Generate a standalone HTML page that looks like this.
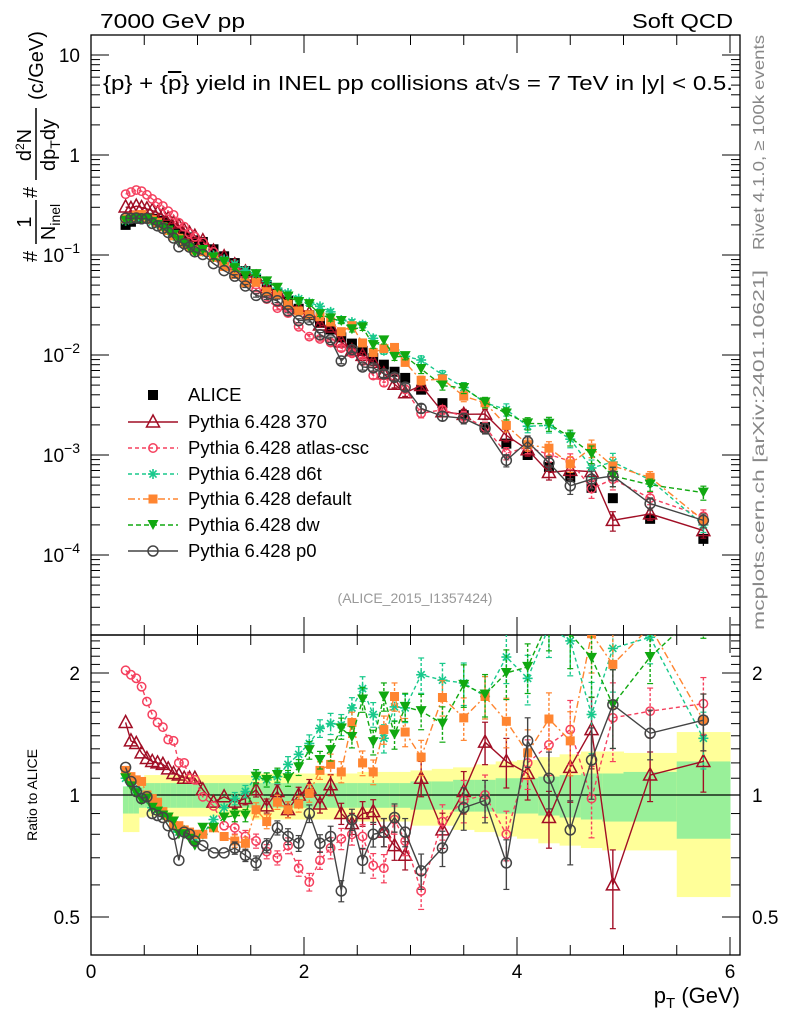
<!DOCTYPE html>
<html><head><meta charset="utf-8"><style>
html,body{margin:0;padding:0;background:#fff;}
svg{display:block;font-family:"Liberation Sans",sans-serif;}
</style></head><body>
<svg id="chart" width="786" height="1024" viewBox="0 0 786 1024" xmlns="http://www.w3.org/2000/svg">
<defs>
<clipPath id="clipTop"><rect x="91" y="35" width="649" height="600"/></clipPath>
<clipPath id="clipRat"><rect x="91" y="635" width="649" height="320"/></clipPath>
</defs>
<g id="bands" clip-path="url(#clipRat)"></g>
<g id="grid"></g>
<g id="marksTop" clip-path="url(#clipTop)"></g>
<g id="marksRat" clip-path="url(#clipRat)"></g>
<g id="legend"></g>
<text x="100" y="28" font-size="20" textLength="145" lengthAdjust="spacingAndGlyphs">7000 GeV pp</text>
<text x="632" y="28" font-size="20" textLength="101" lengthAdjust="spacingAndGlyphs">Soft QCD</text>
<text x="103" y="90" font-size="20" textLength="630" lengthAdjust="spacingAndGlyphs">{p} + {<tspan text-decoration="overline">p</tspan>} yield in INEL pp collisions at√s =  7 TeV in |y| &lt; 0.5.</text>
<text x="415" y="603" font-size="14" fill="#999" text-anchor="middle">(ALICE_2015_I1357424)</text>
<text transform="translate(764,250) rotate(-90)" font-size="16" fill="#888" textLength="215" lengthAdjust="spacingAndGlyphs">Rivet 4.1.0, ≥ 100k events</text>
<text transform="translate(764,630) rotate(-90)" font-size="16" fill="#888" textLength="360" lengthAdjust="spacingAndGlyphs">mcplots.cern.ch [arXiv:2401.10621]</text>
<text transform="translate(37,795) rotate(-90)" font-size="14" text-anchor="middle">Ratio to ALICE</text>
<text x="740" y="1003" font-size="22" text-anchor="end">p<tspan font-size="15" dy="5">T</tspan><tspan dy="-5"> (GeV)</tspan></text>
<g>
<text transform="translate(37,262) rotate(-90)" font-size="20">#</text>
<text transform="translate(31,222) rotate(-90)" font-size="20" text-anchor="middle">1</text>
<line x1="36" y1="200" x2="36" y2="244" stroke="#000" stroke-width="1.5"/>
<text transform="translate(55,222) rotate(-90)" font-size="20" text-anchor="middle">N<tspan font-size="14" dy="5">inel</tspan></text>
<text transform="translate(37,198) rotate(-90)" font-size="20">#</text>
<text transform="translate(31,145) rotate(-90)" font-size="20" text-anchor="middle">d<tspan font-size="12" dy="-7">2</tspan><tspan dy="7">N</tspan></text>
<line x1="36" y1="108" x2="36" y2="180" stroke="#000" stroke-width="1.5"/>
<text transform="translate(55,145) rotate(-90)" font-size="20" text-anchor="middle">dp<tspan font-size="14" dy="5">T</tspan><tspan dy="-5">dy</tspan></text>
<text transform="translate(43,100) rotate(-90)" font-size="20">(c/GeV)</text>
</g>
</svg>
<script>
// ===== data =====
const pT = [0.325,0.375,0.425,0.475,0.525,0.575,0.625,0.675,0.725,0.775,0.825,0.875,0.925,0.975,
1.05,1.15,1.25,1.35,1.45,1.55,1.65,1.75,1.85,1.95,2.05,2.15,2.25,2.35,2.45,2.55,2.65,2.75,2.85,2.95,
3.1,3.3,3.5,3.7,3.9,4.1,4.3,4.5,4.7,4.9,5.25,5.75];
const binEdges = [0.3,0.35,0.4,0.45,0.5,0.55,0.6,0.65,0.7,0.75,0.8,0.85,0.9,0.95,1.0,
1.1,1.2,1.3,1.4,1.5,1.6,1.7,1.8,1.9,2.0,2.1,2.2,2.3,2.4,2.5,2.6,2.7,2.8,2.9,3.0,
3.2,3.4,3.6,3.8,4.0,4.2,4.4,4.6,4.8,5.0,5.5,6.0];
const alice = [0.20,0.215,0.23,0.235,0.235,0.23,0.22,0.21,0.20,0.185,0.175,0.16,0.15,0.14,
0.135,0.114,0.097,0.083,0.069,0.058,0.050,0.042,0.035,0.029,0.025,0.021,0.018,0.015,0.013,0.011,0.0093,0.008,0.0068,0.0059,
0.0045,0.0033,0.0025,0.0019,0.0013,0.001,0.00076,0.0006,0.00047,0.00037,0.00023,0.000145];
const aliceErr = [0.02,0.02,0.02,0.02,0.02,0.02,0.02,0.02,0.02,0.02,0.02,0.02,0.02,0.02,
0.03,0.03,0.03,0.03,0.03,0.03,0.03,0.03,0.03,0.03,0.03,0.03,0.03,0.03,0.04,0.04,0.04,0.04,0.04,0.04,
0.05,0.05,0.05,0.06,0.06,0.06,0.07,0.08,0.08,0.1,0.1,0.15];
const r370 = [1.51,1.36,1.34,1.27,1.23,1.21,1.20,1.19,1.16,1.13,1.12,1.10,1.10,1.10,
1.03,0.96,0.99,0.96,0.98,1.03,0.94,1.02,0.92,1.00,1.04,0.95,1.06,0.90,0.85,0.90,0.91,0.81,0.75,0.71,
1.10,0.82,1.02,1.35,1.21,1.13,0.88,1.17,1.45,0.60,1.12,1.21];
const rAtlas = [2.03,1.98,1.94,1.85,1.70,1.58,1.51,1.47,1.37,1.36,1.20,1.20,1.10,1.09,
0.99,0.94,0.84,0.83,0.79,0.77,0.725,0.70,0.75,0.66,0.61,0.69,0.74,0.78,0.80,0.79,0.67,0.66,0.87,0.77,
0.58,0.86,0.97,1.0,0.80,1.20,1.33,1.45,0.98,1.55,1.61,1.68];
const rD6t = [1.10,1.07,1.03,1.0,0.98,0.93,0.92,0.90,0.88,0.83,0.81,0.82,0.80,0.78,
0.80,0.87,0.93,0.98,1.02,1.11,1.09,1.11,1.19,1.26,1.34,1.46,1.50,1.49,1.64,1.83,1.58,1.38,1.65,1.64,
1.98,1.92,1.89,1.75,2.19,1.94,2.6,2.4,1.58,2.3,2.45,1.38];
const rDefault = [1.15,1.11,1.09,1.08,1.0,0.98,0.96,0.91,0.88,0.84,0.84,0.82,0.81,0.80,
0.80,0.83,0.79,0.77,0.76,0.92,0.86,0.96,0.92,0.95,1.01,1.15,1.19,1.14,1.51,1.20,1.14,1.45,1.75,1.43,
1.24,1.74,1.55,1.75,1.52,1.27,1.54,1.36,2.5,2.1,2.6,1.53];
const rDw = [1.10,1.05,1.01,0.97,0.98,0.93,0.91,0.89,0.88,0.86,0.80,0.80,0.78,0.75,
0.83,0.83,0.88,0.89,0.89,1.11,1.09,1.12,1.10,1.17,1.29,1.22,1.29,1.46,1.39,1.72,1.35,1.75,1.41,1.65,
1.61,1.50,1.87,1.77,2.0,2.07,2.7,2.5,2.18,1.67,2.19,2.9];
const rP0 = [1.17,1.08,1.02,0.98,0.99,0.90,0.89,0.88,0.84,0.80,0.69,0.81,0.80,0.77,
0.75,0.72,0.72,0.74,0.71,0.68,0.75,0.83,0.79,0.76,0.90,0.76,0.79,0.58,0.87,0.69,0.80,0.81,0.88,0.81,
0.65,0.74,0.93,0.97,0.68,1.36,1.10,0.82,1.22,1.67,1.42,1.53];
const mcErr = [0.015,0.015,0.015,0.015,0.015,0.015,0.02,0.02,0.02,0.02,0.02,0.02,0.025,0.025,
0.03,0.03,0.03,0.035,0.035,0.04,0.04,0.04,0.045,0.045,0.05,0.05,0.06,0.06,0.06,0.07,0.07,0.08,0.08,0.08,
0.1,0.1,0.12,0.12,0.14,0.14,0.16,0.18,0.2,0.22,0.14,0.16];
const yelLo = [0.81,0.81,0.81,0.88,0.885,0.885,0.885,0.885,0.885,0.885,0.885,0.885,0.885,0.885,
0.885,0.885,0.885,0.885,0.885,0.87,0.87,0.87,0.87,0.87,0.87,0.87,0.87,0.87,0.87,0.86,0.86,0.86,0.86,0.86,
0.84,0.84,0.82,0.81,0.79,0.78,0.76,0.75,0.74,0.73,0.73,0.56];
const yelHi = [1.05,1.05,1.05,1.06,1.12,1.12,1.12,1.12,1.12,1.12,1.12,1.12,1.12,1.12,
1.12,1.12,1.12,1.12,1.12,1.13,1.13,1.13,1.13,1.13,1.13,1.13,1.13,1.13,1.13,1.14,1.14,1.14,1.14,1.14,
1.15,1.16,1.17,1.19,1.21,1.22,1.24,1.26,1.28,1.28,1.27,1.43];
const grnLo = [0.90,0.90,0.90,0.93,0.93,0.93,0.93,0.93,0.93,0.93,0.93,0.93,0.93,0.93,
0.93,0.93,0.93,0.93,0.93,0.93,0.93,0.93,0.93,0.93,0.93,0.93,0.93,0.93,0.93,0.93,0.93,0.93,0.93,0.93,
0.92,0.92,0.91,0.91,0.9,0.9,0.89,0.88,0.87,0.86,0.86,0.78];
const grnHi = [1.05,1.05,1.05,1.05,1.07,1.07,1.07,1.07,1.07,1.07,1.07,1.07,1.07,1.07,
1.07,1.07,1.07,1.07,1.07,1.07,1.07,1.07,1.07,1.07,1.07,1.07,1.07,1.07,1.07,1.07,1.07,1.07,1.07,1.07,
1.08,1.08,1.09,1.09,1.1,1.1,1.11,1.12,1.13,1.13,1.14,1.21];
const topTickLabels = ["10","1","10^-1","10^-2","10^-3","10^-4"];
const topTickVals = [10,1,0.1,0.01,0.001,0.0001];
const ratTickLabels = ["2","1","0.5"];
const ratTickVals = [2,1,0.5];
const xTickLabels = ["0","2","4","6"];
const xTickVals = [0,2,4,6];

// ===== scales =====
const X0=91, X1=740, TOP=35, MID=635, BOT=955;
const xs = v => 91 + v*106.5;
const yt = v => 155 - 100*Math.log10(v);
const yr = v => 795 - 405.3*Math.log10(v);
const NS="http://www.w3.org/2000/svg";
function mk(tag, attrs, parent){const e=document.createElementNS(NS,tag);for(const k in attrs)e.setAttribute(k,attrs[k]);parent.appendChild(e);return e;}

// ===== bands =====
const gb=document.getElementById('bands');
for(let i=0;i<pT.length;i++){
  const xa=xs(binEdges[i]), xb=xs(binEdges[i+1]);
  const ry=mk('rect',{x:xa,y:yr(yelHi[i]),width:xb-xa+0.5,height:yr(yelLo[i])-yr(yelHi[i]),fill:'#ffff99'},gb);
  
  
  const rg=mk('rect',{x:xa,y:yr(grnHi[i]),width:xb-xa+0.5,height:yr(grnLo[i])-yr(grnHi[i]),fill:'#99f099'},gb);
  
  
}

// ===== axes =====
const ga=document.getElementById('grid');
mk('rect',{x:X0,y:TOP,width:X1-X0,height:MID-TOP,fill:'none',stroke:'#000','stroke-width':1.3},ga);
mk('rect',{x:X0,y:MID,width:X1-X0,height:BOT-MID,fill:'none',stroke:'#000','stroke-width':1.3},ga);
mk('line',{x1:X0,y1:yr(1),x2:X1,y2:yr(1),stroke:'#000','stroke-width':1.2},ga);
for(let k=0;k<=12;k++){
  const v=k*0.5, x=xs(v); if(x>X1) continue;
  const L=(k%4===0)?18:10;
  [[TOP,TOP+L],[MID,MID-L],[MID,MID+L],[BOT,BOT-L]].forEach(p=>mk('line',{x1:x,y1:p[0],x2:x,y2:p[1],stroke:'#000','stroke-width':1},ga));
}
xTickVals.forEach((v,i)=>{const t=mk('text',{x:xs(v),y:978,'font-size':19,'text-anchor':'middle'},ga);t.textContent=xTickLabels[i];
  
  });
for(let d=-5;d<=1;d++){for(let m=1;m<10;m++){const y=yt(m*Math.pow(10,d)); if(y<TOP||y>MID) continue;
  const L=m===1?18:9;
  mk('line',{x1:X0,y1:y,x2:X0+L,y2:y,stroke:'#000','stroke-width':1},ga);
  mk('line',{x1:X1,y1:y,x2:X1-L,y2:y,stroke:'#000','stroke-width':1},ga);}}
topTickVals.forEach((v,i)=>{const lab=topTickLabels[i];const y=yt(v)+7;
  const t=mk('text',{x:80,y:y,'font-size':19,'text-anchor':'end'},ga);
  
  
  if(lab.indexOf('^')>0){const p=lab.split('^');t.textContent=p[0];const s=mk('tspan',{'font-size':14,dy:-9},t);s.textContent=p[1].replace('-','−');}
  else t.textContent=lab;});
for(const v of [0.4,0.5,0.6,0.7,0.8,0.9,1,1.1,1.2,1.3,1.4,1.5,1.6,1.7,1.8,1.9,2,2.1,2.2,2.3,2.4]){
  const y=yr(v); if(y<MID||y>BOT) continue;
  const L=(v===0.5||v===1||v===2)?18:9;
  mk('line',{x1:X0,y1:y,x2:X0+L,y2:y,stroke:'#000','stroke-width':1},ga);
  mk('line',{x1:X1,y1:y,x2:X1-L,y2:y,stroke:'#000','stroke-width':1},ga);}
ratTickVals.forEach((v,i)=>{
  const t=mk('text',{x:80,y:yr(v)+7,'font-size':19,'text-anchor':'end'},ga);t.textContent=ratTickLabels[i];
  
  
  const t2=mk('text',{x:752,y:yr(v)+7,'font-size':19},ga);t2.textContent=ratTickLabels[i];
  
  });

// ===== markers =====
function marker(g,type,x,y,c){
  if(type==='sq') mk('rect',{x:x-5,y:y-5,width:10,height:10,fill:c},g);
  else if(type==='fsq') mk('rect',{x:x-4.5,y:y-4.5,width:9,height:9,fill:c},g);
  else if(type==='tri') mk('polygon',{points:`${x},${y-7} ${x-6.5},${y+5} ${x+6.5},${y+5}`,fill:'none',stroke:c,'stroke-width':1.5},g);
  else if(type==='circ') mk('circle',{cx:x,cy:y,r:4.2,fill:'none',stroke:c,'stroke-width':1.5},g);
  else if(type==='ocirc') mk('circle',{cx:x,cy:y,r:5,fill:'none',stroke:c,'stroke-width':1.5},g);
  else if(type==='dtri') mk('polygon',{points:`${x-5.5},${y-5} ${x+5.5},${y-5} ${x},${y+5}`,fill:c},g);
  else if(type==='star'){for(const a of [0,45,90,135]){const r=a*Math.PI/180;mk('line',{x1:x-5*Math.cos(r),y1:y-5*Math.sin(r),x2:x+5*Math.cos(r),y2:y+5*Math.sin(r),stroke:c,'stroke-width':1.6},g);}}
}
const series=[
 {name:'pythia-370',label:'Pythia 6.428 370',r:r370,c:'#a10e25',m:'tri',dash:'none'},
 {name:'pythia-atlas-csc',label:'Pythia 6.428 atlas-csc',r:rAtlas,c:'#f5405e',m:'circ',dash:'4,3'},
 {name:'pythia-d6t',label:'Pythia 6.428 d6t',r:rD6t,c:'#19c98c',m:'star',dash:'4,3'},
 {name:'pythia-default',label:'Pythia 6.428 default',r:rDefault,c:'#ff8530',m:'fsq',dash:'7,3,2,3'},
 {name:'pythia-dw',label:'Pythia 6.428 dw',r:rDw,c:'#10a810',m:'dtri',dash:'5,3'},
 {name:'pythia-p0',label:'Pythia 6.428 p0',r:rP0,c:'#444444',m:'ocirc',dash:'none'}
];
const gt=document.getElementById('marksTop'), gr=document.getElementById('marksRat');
const gAl=mk('g',{},gt);


pT.forEach((p,i)=>{const x=xs(p),y=yt(alice[i]);
  mk('line',{x1:x,y1:yt(alice[i]*(1+aliceErr[i])),x2:x,y2:yt(alice[i]*(1-aliceErr[i])),stroke:'#000','stroke-width':1.2},gAl);
  marker(gAl,'sq',x,y,'#000');});
series.forEach(s=>{
  ['top','rat'].forEach(panel=>{
    const parent=panel==='top'?gt:gr;
    const g=mk('g',{},parent);
    
    
    const val=i=>panel==='top'?alice[i]*s.r[i]:s.r[i];
    const ys=panel==='top'?yt:yr;
    const pts=pT.map((p,i)=>`${xs(p)},${ys(val(i))}`).join(' ');
    mk('polyline',{points:pts,fill:'none',stroke:s.c,'stroke-width':1.4,'stroke-dasharray':s.dash},g);
    pT.forEach((p,i)=>{const x=xs(p),v=val(i),e=mcErr[i];
      if(e>0.03){mk('line',{x1:x,y1:ys(v*(1+e)),x2:x,y2:ys(v*(1-e)),stroke:s.c,'stroke-width':1.4,'stroke-dasharray':s.dash==='none'?'none':'3,2'},g);
        mk('line',{x1:x-3,y1:ys(v*(1+e)),x2:x+3,y2:ys(v*(1+e)),stroke:s.c,'stroke-width':1.2},g);
        mk('line',{x1:x-3,y1:ys(v*(1-e)),x2:x+3,y2:ys(v*(1-e)),stroke:s.c,'stroke-width':1.2},g);}
      marker(g,s.m,x,ys(v),s.c);});
  });
});

// ===== legend =====
const gl=document.getElementById('legend');
const legY=[395,422,448,474,499,525,551];
const e0=mk('g',{},gl);


marker(e0,'sq',153,legY[0],'#000');
const t0=mk('text',{x:188,y:legY[0]+6,'font-size':18.5},e0);t0.textContent='ALICE';
series.forEach((s,k)=>{const y=legY[k+1];
  const e=mk('g',{},gl);
  
  
  mk('line',{x1:128,y1:y,x2:178,y2:y,stroke:s.c,'stroke-width':1.4,'stroke-dasharray':s.dash},e);
  marker(e,s.m,153,y,s.c);
  const t=mk('text',{x:188,y:y+6,'font-size':18.5},e);t.textContent=s.label;});
</script>
</body></html>
